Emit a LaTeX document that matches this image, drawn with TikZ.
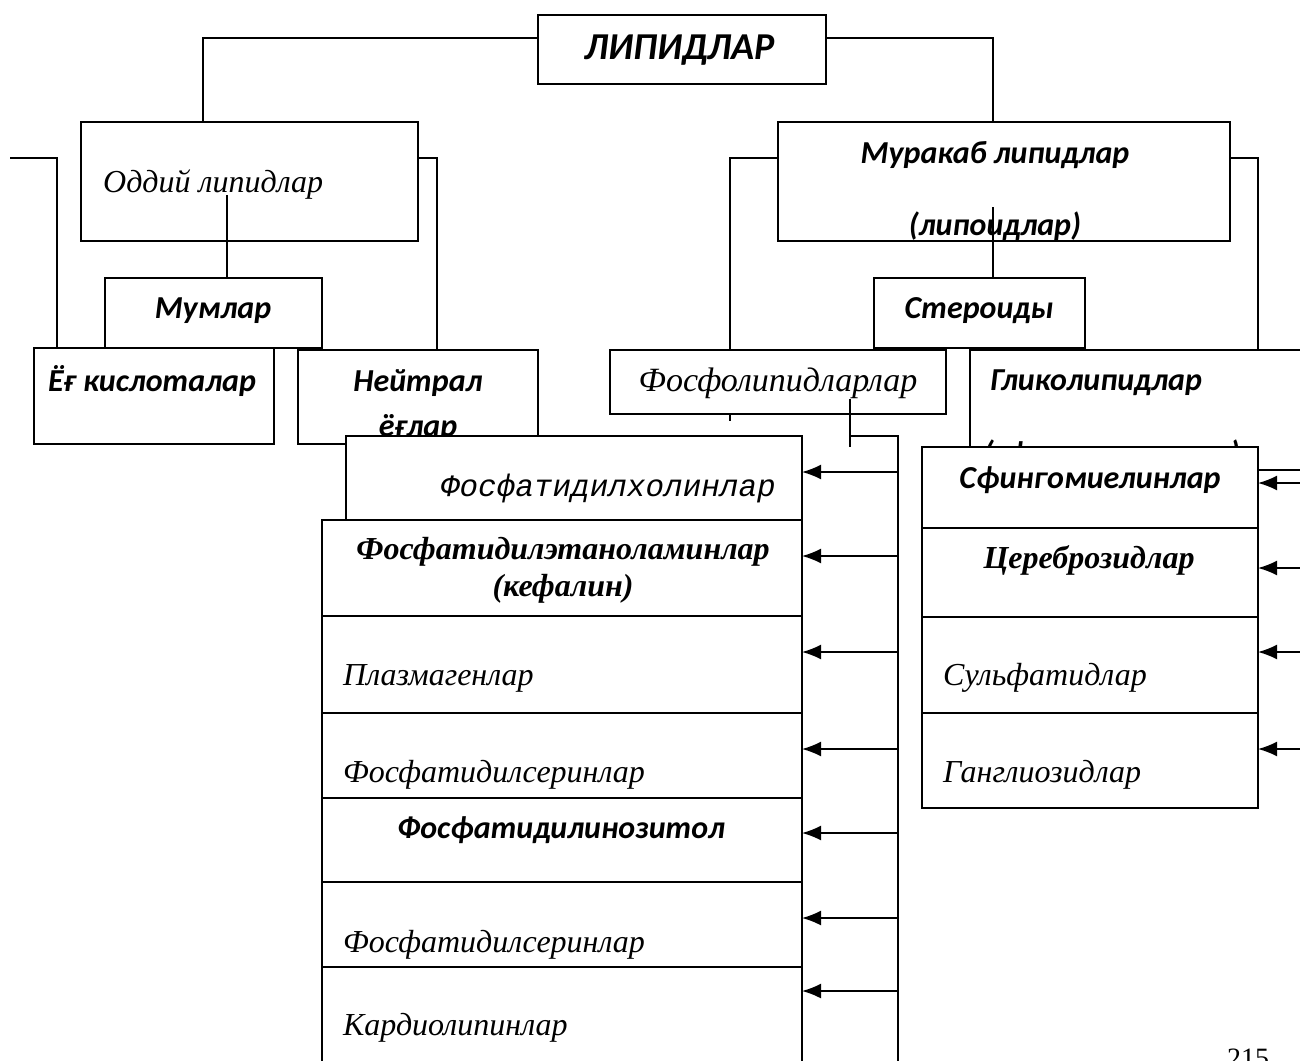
\documentclass[tikz,border=0pt]{standalone}
\usepackage{fontspec}
\setmainfont{Liberation Serif}
\setsansfont{Carlito}
\setmonofont{Liberation Mono}
\usetikzlibrary{arrows.meta}

\begin{document}
\begin{tikzpicture}[x=1pt,y=-1pt]
		\tikzset{box/.style = {draw, line width=1.6pt, inner sep=0pt, outer sep=0pt, anchor=north west}}
		\tikzset{wbox/.style = {box, fill=white}}
		\tikzset{edge/.style = {-, line width=1.6pt}}
		\tikzset{arr/.style = {->, > = {Latex[length=19pt,width=15pt]}, line width=1.6pt}}
		\tikzset{cal/.style = {font=\sffamily\bfseries\itshape\fontsize{32}{38}\selectfont, inner sep=0pt}}
		\tikzset{tim/.style = {font=\rmfamily\itshape\fontsize{32}{38}\selectfont, inner sep=0pt}}
		\tikzset{timb/.style = {font=\rmfamily\bfseries\itshape\fontsize{32}{37}\selectfont, inner sep=0pt, align=center}}
		\tikzset{cour/.style = {font=\ttfamily\itshape\fontsize{31}{36}\selectfont, inner sep=0pt}}
		\useasboundingbox (0,0) rectangle (1300,1060);
		% boxes
		\node[box, minimum width=288pt, minimum height=69pt] (lip) at (538,15) {};
		\node[box, minimum width=337pt, minimum height=119pt] (oddiy) at (81,122) {};
		\node[box, minimum width=217pt, minimum height=70pt] (mum) at (105,278) {};
		\node[box, minimum width=240pt, minimum height=96pt] (yog) at (34,348) {};
		\node[box, minimum width=240pt, minimum height=94pt] (neyt) at (298,350) {};
		\node[box, minimum width=452pt, minimum height=119pt] (murak) at (778,122) {};
		\node[box, minimum width=211pt, minimum height=70pt] (ster) at (874,278) {};
		\node[box, minimum width=336pt, minimum height=64pt] (fosfo) at (610,350) {};
		\node[box, minimum width=400pt, minimum height=120pt] (gliko) at (970,350) {};

		\node[cal, font=\sffamily\bfseries\itshape\fontsize{38}{44}\selectfont] (t-lip) at (680,50) {ЛИПИДЛАР};
		\node[tim, anchor=west] (t-oddiy) at (103,185) {Оддий липидлар};
		\node[cal] (t-mum) at (213,311) {Мумлар};
		\node[cal] (t-yog) at (152,381) {Ёғ кислоталар};
		\node[cal] (t-neyt) at (418,383) {Нейтрал};
		\node[cal] (t-yoglar) at (418,428) {ёғлар};
		\node[cal] (t-murak) at (995,155) {Муракаб липидлар};
		\begin{scope}
			\clip (778,122) rectangle (1230,241);
			\node[cal] (t-lipoid) at (995,226) {(липоидлар)};
		\end{scope}
		\node[cal] (t-ster) at (979,311) {Стероиды};
		\node[tim, font=\rmfamily\itshape\fontsize{34}{40}\selectfont] (t-fosfo) at (778,383) {Фосфолипидларлар};
		\node[cal, anchor=west] (t-gliko) at (990,383) {Гликолипидлар};
		\node[cal] (t-sfingo) at (1112,454) {(сфинголипидлар)};

		% phospholipid column
		\node[wbox, minimum width=456pt, minimum height=84pt] (pchol) at (346,436) {};
		\node[wbox, minimum width=480pt, minimum height=96pt] (pe) at (322,520) {};
		\node[wbox, minimum width=480pt, minimum height=97pt] (plaz) at (322,616) {};
		\node[wbox, minimum width=480pt, minimum height=85pt] (pser) at (322,713) {};
		\node[wbox, minimum width=480pt, minimum height=84pt] (pino) at (322,798) {};
		\node[wbox, minimum width=480pt, minimum height=85pt] (pserb) at (322,882) {};
		\node[wbox, minimum width=480pt, minimum height=113pt] (card) at (322,967) {};

		\node[cour, anchor=east] (t-pchol) at (776,488) {Фосфатидилхолинлар};
		\node[timb] (t-pe) at (563,570) {Фосфатидилэтаноламинлар\\(кефалин)};
		\node[tim, anchor=west] (t-plaz) at (343,678) {Плазмагенлар};
		\node[tim, anchor=west] (t-pser) at (343,775) {Фосфатидилсеринлар};
		\node[cal] (t-pino) at (561,830) {Фосфатидилинозитол};
		\node[tim, anchor=west] (t-pserb) at (343,945) {Фосфатидилсеринлар};
		\node[tim, anchor=west] (t-card) at (343,1028) {Кардиолипинлар};

		% sphingolipid column
		\node[wbox, minimum width=336pt, minimum height=81pt] (sfm) at (922,447) {};
		\node[wbox, minimum width=336pt, minimum height=89pt] (cer) at (922,528) {};
		\node[wbox, minimum width=336pt, minimum height=96pt] (sulf) at (922,617) {};
		\node[wbox, minimum width=336pt, minimum height=95pt] (gang) at (922,713) {};

		\node[cal] (t-sfm) at (1090,480) {Сфингомиелинлар};
		\node[timb] (t-cer) at (1089,560) {Цереброзидлар};
		\node[tim, anchor=west] (t-sulf) at (943,678) {Сульфатидлар};
		\node[tim, anchor=west] (t-gang) at (943,775) {Ганглиозидлар};

		\node[font=\rmfamily\fontsize{28}{32}\selectfont, inner sep=0pt] (page) at (1248,1058) {215};

		%edges
		\coordinate (lft) at (10,158);
		\coordinate (tap) at (850,436);
		\coordinate (bus) at (898,436);
		\coordinate (busend) at (898,1075);
		\draw[edge] ([yshift=11.5pt]lip.west) -| ([xshift=-46.5pt]oddiy.north);
		\draw[edge] ([yshift=11.5pt]lip.east) -| ([xshift=-11pt]murak.north);
		\draw[edge] ([xshift=-22.5pt,yshift=-13.5pt]oddiy.center) -- ([xshift=13.5pt]mum.north);
		\draw[edge] (lft) -| ([xshift=-97pt]yog.north);
		\draw[edge] ([yshift=23.5pt]oddiy.east) -| ([xshift=19pt]neyt.north);
		\draw[edge] ([xshift=-11pt,yshift=-25.5pt]murak.center) -- ([xshift=13.5pt]ster.north);
		\draw[edge] ([yshift=23.5pt]murak.west) -| ([xshift=-48pt]fosfo.north);
		\draw[edge] ([yshift=23.5pt]murak.east) -| ([xshift=88pt]gliko.north);
		\draw[edge] ([xshift=-48pt]fosfo.south) -- ++(0,7);
		\draw[edge] ([xshift=72pt,yshift=-17pt]fosfo.center) -- ++(0,48);
		\draw[edge] (tap) -- (bus) -- (busend);
		\foreach \n/\y in {pchol/472, pe/556, plaz/652, pser/749, pino/833, pserb/918, card/991}
			\draw[arr] (898,\y) -- (\n.east |- 0,\y);
		\foreach \n/\y in {sfm/483, cer/568, sulf/652, gang/749}
			\draw[arr] (1310,\y) -- (\n.east |- 0,\y);
\end{tikzpicture}
\end{document}
